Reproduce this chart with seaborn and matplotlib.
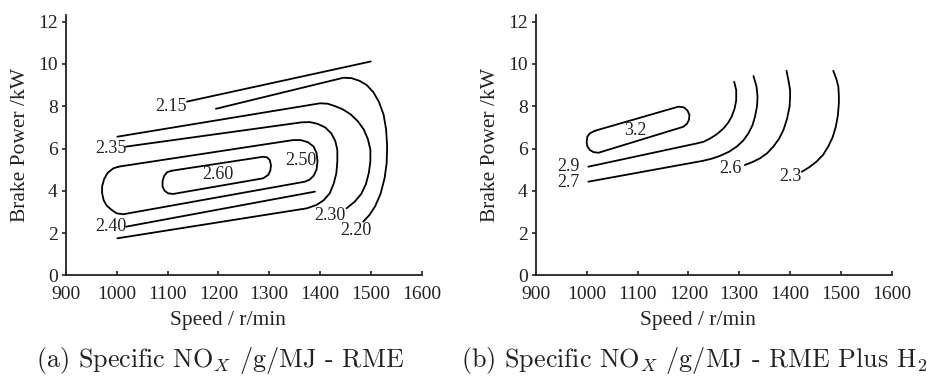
import matplotlib
matplotlib.use("Agg")
import matplotlib.pyplot as plt
import pandas as pd
import seaborn as sns

# ---------------------------------------------------------------------------
# Iso-lines of specific NOx (g/MJ) over the engine map
# speed in r/min, brake power in kW
# ---------------------------------------------------------------------------

# RME
rme_215_speed = [1138, 1500]
rme_215_power = [8.22, 10.12]

rme_220_speed = [1195, 1446, 1462, 1478, 1492, 1505, 1516, 1525, 1530, 1532, 1531, 1527, 1519, 1508, 1497, 1485]
rme_220_power = [7.88, 9.35, 9.33, 9.20, 9.00, 8.66, 8.20, 7.60, 6.90, 6.10, 5.30, 4.60, 3.85, 3.25, 2.85, 2.54]

rme_230_speed = [1001, 1400, 1415, 1430, 1445, 1460, 1474, 1486, 1494, 1499, 1499, 1496, 1490, 1481, 1468, 1452]
rme_230_power = [6.56, 8.14, 8.12, 8.00, 7.85, 7.62, 7.30, 6.90, 6.45, 5.95, 5.40, 4.85, 4.30, 3.85, 3.48, 3.17]

rme_235_speed = [1018, 1364, 1380, 1395, 1410, 1422, 1430, 1434, 1434, 1432, 1427, 1419, 1407, 1393, 1374, 1001]
rme_235_power = [6.09, 7.24, 7.25, 7.17, 7.00, 6.72, 6.35, 5.93, 5.40, 4.83, 4.35, 3.88, 3.55, 3.33, 3.17, 1.75]

rme_240_speed = [1018, 1390]
rme_240_power = [2.30, 3.96]

rme_250_speed = [1003, 1347, 1362, 1376, 1387, 1393, 1395, 1393, 1387, 1379, 1370, 1013, 1000, 990, 980, 974, 971, 971, 975, 982, 993, 1003]
rme_250_power = [5.14, 6.40, 6.40, 6.30, 6.10, 5.80, 5.40, 5.00, 4.70, 4.52, 4.43, 2.89, 2.93, 3.09, 3.30, 3.56, 3.90, 4.20, 4.55, 4.85, 5.06, 5.14]

rme_260_speed = [1108, 1288, 1296, 1301, 1303.5, 1302, 1298, 1288, 1111, 1101, 1094, 1090, 1090, 1093, 1099, 1108]
rme_260_power = [4.95, 5.61, 5.58, 5.45, 5.20, 4.95, 4.75, 4.59, 3.85, 3.88, 4.00, 4.20, 4.45, 4.70, 4.88, 4.95]

rme_label_text = ["2.15", "2.20", "2.30", "2.35", "2.40", "2.50", "2.60"]
rme_label_speed = [1107, 1471, 1420, 989, 989, 1362, 1198]
rme_label_power = [7.98, 2.14, 2.85, 6.01, 2.30, 5.42, 4.79]

# RME plus H2
h2_230_speed = [1423, 1438, 1452, 1465, 1475, 1484, 1490, 1494, 1496, 1496, 1495, 1491, 1485]
h2_230_power = [4.90, 5.12, 5.38, 5.70, 6.09, 6.55, 7.03, 7.55, 8.14, 8.50, 8.93, 9.30, 9.68]

h2_260_speed = [1311, 1326, 1341, 1355, 1367, 1378, 1387, 1394, 1399, 1400, 1400, 1397, 1393]
h2_260_power = [5.22, 5.36, 5.54, 5.78, 6.09, 6.45, 6.88, 7.40, 7.98, 8.40, 8.77, 9.20, 9.68]

h2_270_speed = [1003, 1229, 1246, 1262, 1280, 1295, 1308, 1318, 1326, 1331, 1335, 1336, 1334, 1328]
h2_270_power = [4.43, 5.42, 5.52, 5.65, 5.85, 6.09, 6.38, 6.72, 7.10, 7.51, 8.00, 8.45, 8.93, 9.43]

h2_290_speed = [1003, 1216, 1230, 1243, 1256, 1269, 1279, 1285, 1291, 1294, 1294, 1290]
h2_290_power = [5.14, 6.24, 6.32, 6.48, 6.68, 6.95, 7.25, 7.51, 7.90, 8.29, 8.77, 9.16]

h2_320_speed = [1016, 1180, 1191, 1198, 1202, 1201, 1197, 1190, 1023, 1013, 1006, 1001, 999.7, 1001, 1006, 1016]
h2_320_power = [6.84, 7.98, 7.95, 7.80, 7.59, 7.35, 7.17, 7.03, 5.80, 5.83, 5.93, 6.10, 6.30, 6.56, 6.72, 6.84]

h2_label_text = ["2.3", "2.6", "2.7", "2.9", "3.2"]
h2_label_speed = [1400, 1283, 964, 964, 1096]
h2_label_power = [4.67, 5.05, 4.38, 5.14, 6.84]

speed_ticks = [900, 1000, 1100, 1200, 1300, 1400, 1500, 1600]
power_ticks = [0, 2, 4, 6, 8, 10, 12]

caption_a = r"(a) Specific NO$_X$ /g/MJ - RME"
caption_b = r"(b) Specific NO$_X$ /g/MJ - RME Plus H$_2$"


def contour_frame(paths):
    frames = []
    for level, (sp, pw) in paths.items():
        frames.append(pd.DataFrame({"speed": sp, "power": pw, "level": level}))
    return pd.concat(frames, ignore_index=True)


rme_paths = {
    "2.15": (rme_215_speed, rme_215_power),
    "2.20": (rme_220_speed, rme_220_power),
    "2.30": (rme_230_speed, rme_230_power),
    "2.35": (rme_235_speed, rme_235_power),
    "2.40": (rme_240_speed, rme_240_power),
    "2.50": (rme_250_speed, rme_250_power),
    "2.60": (rme_260_speed, rme_260_power),
}
h2_paths = {
    "2.3": (h2_230_speed, h2_230_power),
    "2.6": (h2_260_speed, h2_260_power),
    "2.7": (h2_270_speed, h2_270_power),
    "2.9": (h2_290_speed, h2_290_power),
    "3.2": (h2_320_speed, h2_320_power),
}

sns.set_theme(style="ticks")
plt.rcParams["font.family"] = ["Liberation Serif", "DejaVu Serif"]
plt.rcParams["mathtext.fontset"] = "cm"

text_color = "#222222"

fig = plt.figure(figsize=(9.33, 3.76), dpi=100)
ax_w = (421.7 - 66) / 933
ax_h = (275.3 - 15.4) / 376
ax_b = 1 - 275.3 / 376
ax_a = fig.add_axes([66 / 933, ax_b, ax_w, ax_h])
ax_bx = fig.add_axes([536 / 933, ax_b, ax_w, ax_h])

panels = [
    (ax_a, rme_paths, rme_label_text, rme_label_speed, rme_label_power),
    (ax_bx, h2_paths, h2_label_text, h2_label_speed, h2_label_power),
]

for ax, paths, ltxt, lsp, lpw in panels:
    df = contour_frame(paths)
    sns.lineplot(data=df, x="speed", y="power", units="level", estimator=None,
                 sort=False, color="black", linewidth=1.3, ax=ax, legend=False)
    for t, s, p in zip(ltxt, lsp, lpw):
        ax.text(s, p, t, ha="center", va="center", fontsize=13, color=text_color)

    ax.set_xlim(900, 1600)
    ax.set_ylim(0, 12.3)
    ax.set_xticks(speed_ticks)
    ax.set_yticks(power_ticks)
    for side in ("top", "right"):
        ax.spines[side].set_visible(False)
    for side in ("left", "bottom"):
        ax.spines[side].set_linewidth(1.3)
        ax.spines[side].set_color("#222222")
    ax.tick_params(axis="x", direction="in", length=3, width=1.2, pad=8,
                   labelsize=14, colors=text_color)
    ax.tick_params(axis="y", direction="out", length=3, width=1.2, pad=3,
                   labelsize=14, colors=text_color)
    ax.set_xlabel("Speed / r/min", fontsize=15.5, color=text_color)
    ax.set_ylabel("Brake Power /kW", fontsize=15.5, color=text_color)
    ax.xaxis.set_label_coords(0.455, -0.137)
    ax.yaxis.set_label_coords(-0.1, 0.5)
    ax.set_facecolor("white")

fig.text(220 / 933, 1 - 367 / 376, caption_a, family="cmr10", fontsize=18.8,
         ha="center", va="baseline", color=text_color)
fig.text(694 / 933, 1 - 367 / 376, caption_b, family="cmr10", fontsize=18.8,
         ha="center", va="baseline", color=text_color)

fig.savefig("out.png", dpi=100, facecolor="white")
